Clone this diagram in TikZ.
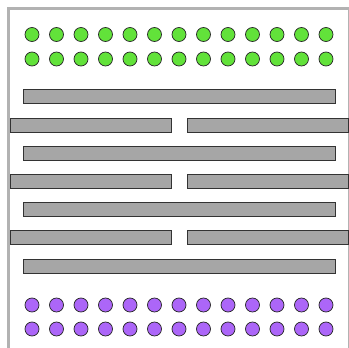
\documentclass[tikz,border=0pt]{standalone}
\usepackage{tikz}
\usetikzlibrary{positioning}
\definecolor{catgreen}{RGB}{98,226,58}
\definecolor{anviolet}{RGB}{172,102,248}

\begin{document}
\begin{tikzpicture}[x=1pt,y=-1pt,
  ion/.style={circle,draw=black!85,line width=0.7pt,minimum size=14pt,inner sep=0pt},
  cation/.style={ion,fill=catgreen},
  anion/.style={ion,fill=anviolet},
  plate/.style={draw=black!80,line width=0.8pt,fill=black!35,minimum height=14pt,inner sep=0pt},
  longplate/.style={plate,minimum width=312pt},
  halfplate/.style={plate,minimum width=161pt}]
\useasboundingbox (0,0) rectangle (349,348);
\begin{scope}
\clip (0,0) rectangle (349,348);
\draw[black!30,line width=3pt] (8.5,8.5) rectangle (349.5,352);
\end{scope}
% charges
\foreach \i in {0,...,12}{
  \node[cation] (p1-\i) at ({32+24.5*\i},34.5) {};
  \node[cation] (p2-\i) at ({32+24.5*\i},59) {};
  \node[anion] (n1-\i) at ({32+24.5*\i},305) {};
  \node[anion] (n2-\i) at ({32+24.5*\i},329) {};
}
% plates
\foreach \y [count=\k] in {96.5,153.5,209.5,266.5}
  \node[longplate] (L\k) at (179.25,\y) {};
\foreach \y [count=\k] in {125.5,181.5,237.5}{
  \node[halfplate] (A\k) at (91,\y) {};
  \node[halfplate] (B\k) at (267.5,\y) {};
}
\end{tikzpicture}
\end{document}
